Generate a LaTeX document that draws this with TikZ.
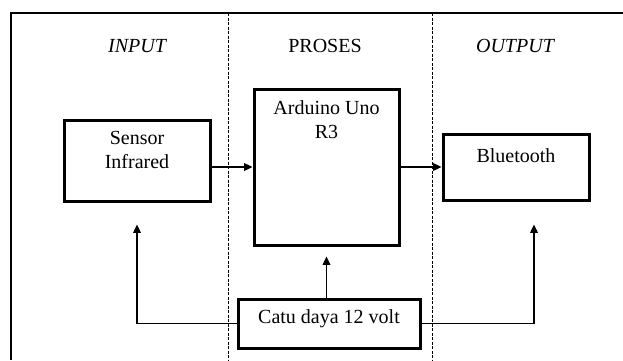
\documentclass[tikz,border=0pt]{standalone}
\usepackage{fontspec}
\setmainfont{Liberation Serif}
\usetikzlibrary{arrows.meta,positioning,calc}
\tikzset{
  block/.style={draw,line width=1.8pt,inner sep=0pt,align=center},
  teks/.style={align=center,inner sep=1pt},
  arr/.style={-{Triangle[length=5pt,width=4.6pt]},line width=0.75pt},
  sekat/.style={line width=0.6pt,dash pattern=on 1.8pt off 0.9pt},
  judul/.style={font=\fontsize{12}{14.4}\selectfont\itshape}
}
\begin{document}
\begin{tikzpicture}[x=0.6pt,y=-0.6pt,font=\fontsize{12}{14.4}\selectfont]
  \useasboundingbox (0,0) rectangle (623,360);
  % bingkai dan sekat
  \draw[line width=0.7pt] (623,13) -- (11,13) -- (11,360);
  \draw[sekat] (228,13) -- (228,360);
  \draw[sekat] (432,13) -- (432,360);
  \node[judul] (hinput) at (137,46) {INPUT};
  \node (hproses) at (325,46) {PROSES};
  \node[judul] (houtput) at (515,46) {OUTPUT};
  % blok
  \node[block,minimum width=87.6pt,minimum height=48.6pt] (sensor) at (137,160.5) {};
  \node[teks] (tsensor) at (137,150) {Sensor\\Infrared};
  \node[block,minimum width=87pt,minimum height=93.6pt] (arduino) at (326.5,167) {};
  \node[teks] (tarduino) at (326.5,120) {Arduino Uno\\R3};
  \node[block,minimum width=87.6pt,minimum height=39.6pt] (bluetooth) at (516,167) {};
  \node[teks] (tbluetooth) at (516,156) {Bluetooth};
  \node[block,minimum width=109.2pt,minimum height=29.4pt] (catu) at (329,323.5) {};
  \node[teks] (tcatu) at (329,319) {Catu daya 12 volt};
  % panah
  \draw[arr] (sensor.east |- arduino.west) -- (arduino.west);
  \draw[arr] (arduino.east) -- (bluetooth.west);
  \draw[arr] (arduino.south |- catu.north) -- ([yshift=-6pt]arduino.south);
  \draw[arr] (catu.west) -| ([yshift=-13.2pt]sensor.south);
  \draw[arr] (catu.east) -| ([xshift=10.8pt,yshift=-13.8pt]bluetooth.south);
\end{tikzpicture}
\end{document}
